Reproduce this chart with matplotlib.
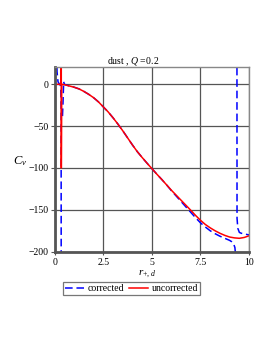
import matplotlib
matplotlib.use("Agg")
import matplotlib.pyplot as plt
import numpy as np

plt.rcParams['font.family'] = ['Liberation Serif', 'DejaVu Serif']
plt.rcParams['mathtext.fontset'] = 'custom'
plt.rcParams['mathtext.rm'] = 'Liberation Serif'
plt.rcParams['mathtext.it'] = 'Liberation Serif:italic'

# uncorrected (red)
r_unc = [0.0, 0.1, 0.2, 0.3, 0.33, 0.335, 0.34, 0.36, 0.5, 0.75, 1.0, 1.25, 1.5, 1.75,
         2.0, 2.25, 2.5, 2.75, 3.0, 3.25, 3.5, 3.75, 4.0, 4.25, 4.5, 4.75, 5.0, 5.25,
         5.5, 5.75, 6.0, 6.25, 6.5, 6.75, 7.0, 7.25, 7.5, 7.75, 8.0, 8.25, 8.5, 8.75,
         9.0, 9.25, 9.5, 9.75, 10.0]
c_unc = [0.0, 0.0, 0.0, 0.0, 0.5, 300.0, -100.0, 0.0, -0.5, -2, -3.5, -5.5, -8.5, -12,
         -16, -21, -27, -33, -40, -47.5, -55.5, -64, -72.5, -80.5, -87.5, -94.25, -100.75, -107.25,
         -113.5, -120, -126.5, -132.5, -138.5, -144.5, -150.5, -156.75, -162.5, -167.5, -171.5, -175, -178, -180.5,
         -182.5, -183.5, -184, -183, -181]

# corrected (blue), three branches
r_cor1 = [0.05, 0.08, 0.12, 0.17, 0.22, 0.27, 0.31, 0.33, 0.335]
c_cor1 = [300, 60, 15, 3, 1, 0, -3, -30, -300]
r_cor2 = [0.40, 0.43, 0.46, 0.5, 0.75, 1.0, 1.25, 1.5, 1.75, 2.0, 2.25, 2.5, 2.75, 3.0,
          3.25, 3.5, 3.75, 4.0, 4.25, 4.5, 4.75, 5.0, 5.25, 5.5, 5.75, 6.0, 6.25, 6.5,
          6.75, 7.0, 7.25, 7.5, 7.75, 8.0, 8.25, 8.5, 8.75, 9.0, 9.1, 9.2, 9.27, 9.31, 9.34]
c_cor2 = [-38, -20, 3, 0, -2, -3.5, -5.5, -8.5, -12, -16, -21, -27, -33, -40,
          -47.5, -55.5, -64, -72.5, -80.5, -87.5, -94.25, -100.75, -107.25, -113.5, -120, -127, -133.5, -140,
          -146.5, -153, -159.5, -165.5, -170.5, -175, -178.5, -181.5, -184, -186.5, -188, -190.5, -195, -205, -300]
r_cor3 = [9.37, 9.38, 9.42, 9.5, 9.6, 9.8, 10.0]
c_cor3 = [300, -160, -172, -177, -178, -179, -180]

xticks = [0, 2.5, 5, 7.5, 10]
xticklabels = ['0', '2.5', '5', '7.5', '10']
yticks = [0, -50, -100, -150, -200]
yticklabels = ['0', '\u221250', '\u2212100', '\u2212150', '\u2212200']

fig = plt.figure(figsize=(2.73, 3.53), dpi=100)
ax = fig.add_axes([0.2004, 0.287, 0.712, 0.524])

lw = 1.1
l1, = ax.plot(r_cor1, c_cor1, color='#0000ff', lw=lw, dashes=(5, 2.5), label='corrected')
ax.plot(r_cor2, c_cor2, color='#0000ff', lw=lw, dashes=(5, 2.5))
ax.plot(r_cor3, c_cor3, color='#0000ff', lw=lw, dashes=(5, 2.5))
l2, = ax.plot(r_unc, c_unc, color='#ff0000', lw=lw, label='uncorrected')

ax.set_xlim(0, 10)
ax.set_ylim(-200, 21)
ax.set_xticks(xticks)
ax.set_xticklabels(xticklabels)
ax.set_yticks(yticks)
ax.set_yticklabels(yticklabels)
ax.tick_params(axis='y', length=3, width=0.8, color='#555555', labelsize=7, pad=1.5, labelcolor='black')
ax.tick_params(axis='x', length=2, width=0.8, color='#555555', labelsize=7, pad=2.5, labelcolor='black')
ax.grid(True, color='#555555', lw=0.9)
ax.set_axisbelow(True)
for s in ['top', 'right']:
    ax.spines[s].set_color('#888888')
    ax.spines[s].set_linewidth(1.0)
for s in ['left', 'bottom']:
    ax.spines[s].set_color('#555555')
    ax.spines[s].set_linewidth(2.0)

fig.text(133 / 273, 1 - 62 / 353, 'dust , $\\mathit{Q{=}0.2}$', ha='center', va='center', fontsize=7)
fig.text(20 / 273, 1 - 161 / 353, '$C_v$', ha='center', va='center', fontsize=9)
fig.text(147 / 273, 1 - 274 / 353, '$r_{+,\\,d}$', ha='center', va='center', fontsize=8)

leg = fig.legend(handles=[l1, l2], loc='center', bbox_to_anchor=(131.5 / 273, 1 - 288.5 / 353),
                 ncol=2, fontsize=7, frameon=True, fancybox=False, edgecolor='#555555',
                 handlelength=2.0, handletextpad=0.35, columnspacing=0.5, borderpad=0.2,
                 borderaxespad=0)
leg.get_frame().set_linewidth(0.9)

fig.savefig('out.png', dpi=100)
